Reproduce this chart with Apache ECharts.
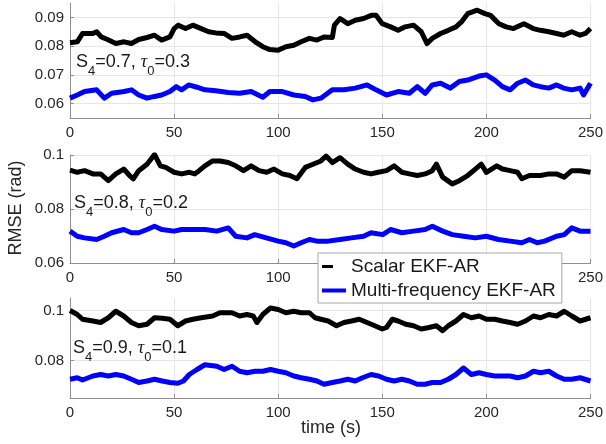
<!DOCTYPE html>
<html><head><meta charset="utf-8">
<script src="https://cdn.jsdelivr.net/npm/echarts@6/dist/echarts.min.js"></script>
<style>html,body{margin:0;padding:0;background:#fff}#c{width:606px;height:444px}</style>
</head><body><div id="c"></div>
<script>
// ---------- data ----------
const xTicks = [0, 50, 100, 150, 200, 250];
const yTicks1 = [0.06, 0.07, 0.08, 0.09];
const yTicks2 = [0.06, 0.08, 0.1];
const yTicks3 = [0.08, 0.1];
const seriesNames = ['Scalar EKF-AR', 'Multi-frequency EKF-AR'];
const panelLabels = [['0.7', '0.3'], ['0.8', '0.2'], ['0.9', '0.1']];

// Panel 1: S4=0.7, tau0=0.3
const t1Scalar = [0,3.5,6,11,12.8,15,18,22,26,29.5,33,37,40.6,44,48,50,52,55.5,59,63,66.6,70,74,77.8,81.5,85,89,92.6,96,100,103.7,107.5,111,115,118.6,122,126,127,129.7,133.4,137,141,144.7,147,150,154,157.6,161,165,168.7,171.5,174,178,181.7,185.4,188,191,195.6,199.3,202,206,209.5,213,218,222.5,226,230,233.7,237,241,245,247.6,250];
const v1Scalar = [0.0812,0.0815,0.0844,0.0844,0.0850,0.0832,0.0823,0.0809,0.0815,0.0809,0.0823,0.0830,0.0838,0.0821,0.0832,0.0861,0.0873,0.0861,0.0873,0.0861,0.0850,0.0846,0.0844,0.0827,0.0832,0.0838,0.0815,0.0798,0.0788,0.0786,0.0798,0.0803,0.0815,0.0827,0.0821,0.0832,0.0830,0.0873,0.0896,0.0878,0.0890,0.0896,0.0907,0.0907,0.0878,0.0867,0.0855,0.0867,0.0873,0.0850,0.0809,0.0827,0.0844,0.0855,0.0867,0.0884,0.0913,0.0925,0.0913,0.0907,0.0878,0.0867,0.0861,0.0878,0.0861,0.0855,0.0850,0.0844,0.0838,0.0850,0.0838,0.0844,0.0861];
const t1Multi = [0,3.5,7,12.8,16.5,20,26,29.5,33,37,40.6,44,48,51,53.6,57,61,64.8,70,76,81.5,87,92.6,96,102,107.5,113,116.7,120.5,126,131.6,137,142.7,147,152,157.6,163,166.8,170.6,174,178,182.6,187,191,196.5,200,204,207.7,211.4,215,218.8,222.5,226,230,233.7,237,241,245,246.7,250];
const v1Multi = [0.0619,0.0630,0.0642,0.0648,0.0619,0.0636,0.0642,0.0648,0.0630,0.0619,0.0625,0.0630,0.0642,0.0659,0.0648,0.0665,0.0657,0.0648,0.0645,0.0639,0.0636,0.0642,0.0622,0.0642,0.0642,0.0630,0.0625,0.0613,0.0619,0.0648,0.0648,0.0654,0.0665,0.0648,0.0630,0.0642,0.0636,0.0659,0.0636,0.0665,0.0671,0.0654,0.0677,0.0682,0.0696,0.0700,0.0682,0.0659,0.0648,0.0671,0.0682,0.0665,0.0659,0.0654,0.0665,0.0654,0.0648,0.0654,0.0630,0.0671];

// Panel 2: S4=0.8, tau0=0.2
const t2Scalar = [0,3.5,7,11,14.7,18.4,22,25.8,28.6,30.4,33,37,40.6,43.4,46,50,53.6,57.3,60,62,64.8,68.5,72,76,79.6,83.3,87,90.8,94.5,98,102,105.6,109,113,116.7,120.5,123,126,129.7,133.4,137,141,144.6,148,152,155.7,159.4,163,166.8,170.6,174,176,179,183.6,187,191,194.7,197.5,200,205,207.7,211.4,215,217,220.7,226,230,233.7,237.4,241,245,250];
const v2Scalar = [0.0944,0.0936,0.0942,0.0930,0.0930,0.0905,0.0930,0.0948,0.0924,0.0912,0.0942,0.0966,0.1002,0.0960,0.0954,0.0936,0.0930,0.0936,0.0930,0.0942,0.0960,0.0978,0.0978,0.0972,0.0960,0.0942,0.0960,0.0942,0.0936,0.0948,0.0930,0.0924,0.0912,0.0954,0.0966,0.0978,0.0996,0.0972,0.0990,0.0966,0.0948,0.0936,0.0930,0.0936,0.0942,0.0960,0.0936,0.0930,0.0924,0.0930,0.0942,0.0966,0.0918,0.0893,0.0905,0.0924,0.0948,0.0966,0.0936,0.0960,0.0948,0.0942,0.0936,0.0912,0.0924,0.0924,0.0930,0.0930,0.0918,0.0942,0.0942,0.0936];
const t2Multi = [0,3.5,7,12.8,16.5,20,25.8,29.5,33,37,40.6,44,50,53.6,59,64.8,70.5,76,79.6,85,88.7,94.3,100,103.7,107.5,111,115,118.6,124,129.7,135.2,141,144.6,150.2,154,159.4,165,170.6,174,179,183.6,189,194.7,200,205.8,211.4,217,220.7,224.4,228,233.7,237.4,241,245,250];
const v2Multi = [0.0718,0.0699,0.0693,0.0687,0.0699,0.0712,0.0724,0.0712,0.0712,0.0724,0.0736,0.0724,0.0718,0.0724,0.0724,0.0724,0.0718,0.0730,0.0699,0.0693,0.0705,0.0693,0.0681,0.0675,0.0663,0.0675,0.0687,0.0681,0.0681,0.0687,0.0693,0.0699,0.0712,0.0705,0.0724,0.0712,0.0718,0.0724,0.0736,0.0718,0.0705,0.0699,0.0693,0.0699,0.0687,0.0681,0.0675,0.0687,0.0675,0.0681,0.0699,0.0705,0.0730,0.0718,0.0718];

// Panel 3: S4=0.9, tau0=0.1
const t3Scalar = [0,3.5,6,11,14.7,18.4,22,25.8,29.5,33,37,40.6,44.3,48,51.8,55.5,59,63,68.5,72,77.8,81.5,85,88,89.8,92.6,96.3,100,103.7,107.5,111,115,117.7,120.5,124,128,131.6,135.2,138.9,142.7,146.4,150,152,154.8,157.6,161.3,165,168.7,172.4,176,179,181.7,185.4,189,192.8,196.5,200,204,207.7,211.4,215,218.8,222.6,226,230,233.7,237.4,241,245,250];
const v3Scalar = [0.1000,0.0984,0.0965,0.0958,0.0952,0.0971,0.0997,0.0978,0.0952,0.0939,0.0945,0.0971,0.0969,0.0965,0.0939,0.0958,0.0965,0.0971,0.0978,0.0991,0.0991,0.0978,0.0984,0.0978,0.0952,0.0984,0.1010,0.1004,0.0991,0.0997,0.0991,0.0991,0.0971,0.0965,0.0958,0.0939,0.0952,0.0958,0.0965,0.0952,0.0939,0.0926,0.0932,0.0965,0.0958,0.0945,0.0939,0.0926,0.0932,0.0939,0.0919,0.0939,0.0958,0.0984,0.0971,0.0978,0.0965,0.0965,0.0958,0.0952,0.0945,0.0958,0.0978,0.0971,0.0984,0.0978,0.0997,0.0978,0.0958,0.0971];
const t3Multi = [0,3.5,6,11,14.7,18.4,22,25.8,29.5,33,37,40.6,44.3,48,51.8,54.5,57.3,61,64.8,70.5,74,77.8,81.5,85,88.9,92.6,96.3,100,103.7,107.5,111,115,118.6,122,126,129.7,133.4,137,140.5,144.6,148.2,152,155.7,159.4,163,166.8,170.6,174,178,181.7,185.4,189,192.8,196.5,200,204,207.7,211.4,215,218.8,222.6,226,230,233.7,237.4,241,245,250];
const v3Multi = [0.0725,0.0731,0.0722,0.0738,0.0744,0.0738,0.0744,0.0738,0.0725,0.0712,0.0718,0.0725,0.0718,0.0712,0.0709,0.0718,0.0744,0.0764,0.0783,0.0777,0.0764,0.0777,0.0757,0.0751,0.0757,0.0757,0.0764,0.0757,0.0751,0.0738,0.0731,0.0725,0.0718,0.0705,0.0712,0.0718,0.0725,0.0718,0.0731,0.0744,0.0738,0.0725,0.0718,0.0725,0.0718,0.0705,0.0705,0.0712,0.0712,0.0725,0.0744,0.0770,0.0744,0.0751,0.0744,0.0738,0.0738,0.0738,0.0731,0.0738,0.0757,0.0751,0.0757,0.0738,0.0725,0.0725,0.0731,0.0718];

// ---------- chart ----------
const FONT = '"Liberation Sans", Arial, Helvetica, sans-serif';
const AXC = '#8f8f8f', GRC = '#e6e6e6', TXT = '#262626';
const COLORS = ['#000000', '#0000ff'];
const WIDTHS = [5, 5];

const layout = [
  { top: 3,   height: 115, min: 0.055, max: 0.095, ticks: yTicks1, labelTop: 53 },
  { top: 155, height: 108, min: 0.06,  max: 0.1,   ticks: yTicks2, labelTop: 194 },
  { top: 298, height: 100, min: 0.065, max: 0.105, ticks: yTicks3, labelTop: 339 }
];
const labelX = [76, 74, 73];
const data = [[[t1Scalar, v1Scalar], [t1Multi, v1Multi]],
              [[t2Scalar, v2Scalar], [t2Multi, v2Multi]],
              [[t3Scalar, v3Scalar], [t3Multi, v3Multi]]];

function pairs(t, v) { const n = Math.min(t.length, v.length); const r = []; for (let i = 0; i < n; i++) r.push([t[i], v[i]]); return r; }
const fmtY = v => String(+(+v).toFixed(3));

const grid = [], xAxis = [], yAxis = [], series = [], graphic = [];
layout.forEach((p, i) => {
  grid.push({ left: 70, right: 15, top: p.top, height: p.height, containLabel: false });
  xAxis.push({
    gridIndex: i, type: 'value', min: xTicks[0], max: xTicks[xTicks.length - 1], interval: 50,
    axisLine: { show: true, onZero: false, lineStyle: { color: AXC, width: 1 } },
    axisTick: { show: true, inside: true, length: 4, lineStyle: { color: AXC } },
    axisLabel: { show: true, color: TXT, fontSize: 15, fontFamily: FONT, margin: 7 },
    splitLine: { show: true, lineStyle: { color: GRC, width: 1 } }
  });
  yAxis.push({
    gridIndex: i, type: 'value', min: p.min, max: p.max,
    axisLine: { show: true, onZero: false, lineStyle: { color: AXC, width: 1 } },
    axisTick: { show: true, inside: true, length: 4, customValues: p.ticks, lineStyle: { color: AXC } },
    axisLabel: { show: true, customValues: p.ticks, formatter: fmtY, color: TXT, fontSize: 15, fontFamily: FONT, margin: 6 },
    splitLine: { show: true, lineStyle: { color: GRC, width: 1 } }
  });
  data[i].forEach((d, k) => {
    series.push({
      type: 'line', name: seriesNames[k], xAxisIndex: i, yAxisIndex: i,
      data: pairs(d[0], d[1]), showSymbol: false, symbol: 'none', silent: true,
      lineStyle: { color: COLORS[k], width: WIDTHS[k], join: 'round' },
      itemStyle: { color: COLORS[k] }, z: 2 + k
    });
  });
  graphic.push({
    type: 'text', x: labelX[i], y: p.labelTop, z: 10,
    style: {
      text: '{a|S}{b|4}{a|=' + panelLabels[i][0] + ', }{c|τ}{b|0}{a|=' + panelLabels[i][1] + '}',
      align: 'left', verticalAlign: 'top', textAlign: 'left', textVerticalAlign: 'top',
      rich: {
        a: { fontSize: 18, fontFamily: FONT, fill: '#1a1a1a', color: '#1a1a1a', verticalAlign: 'top' },
        b: { fontSize: 13, fontFamily: FONT, fill: '#1a1a1a', color: '#1a1a1a', verticalAlign: 'top', padding: [12, 0, 0, 0] },
        c: { fontSize: 18, fontFamily: '"Liberation Serif", serif', fontStyle: 'italic', fill: '#1a1a1a', color: '#1a1a1a', verticalAlign: 'top' }
      }
    }
  });
});

graphic.push({
  type: 'text', x: 16, y: 208, rotation: Math.PI / 2, z: 10,
  style: { text: 'RMSE (rad)', font: '18px ' + FONT, fill: TXT, align: 'center', verticalAlign: 'middle', textAlign: 'center', textVerticalAlign: 'middle' }
});
graphic.push({
  type: 'text', x: 331, y: 428, z: 10,
  style: { text: 'time (s)', font: '18px ' + FONT, fill: TXT, align: 'center', verticalAlign: 'middle', textAlign: 'center', textVerticalAlign: 'middle' }
});

const chart = echarts.init(document.getElementById('c'), null, { renderer: 'canvas', width: 606, height: 444 });
chart.setOption({
  animation: false,
  backgroundColor: '#ffffff',
  grid, xAxis, yAxis, series, graphic,
  legend: {
    left: 318, top: 253, orient: 'vertical', padding: [4, 6, 3, 4], itemGap: 5,
    itemWidth: 24, itemHeight: 12, selectedMode: false,
    backgroundColor: '#ffffff', borderColor: '#a6a6a6', borderWidth: 1, borderRadius: 0,
    textStyle: { fontSize: 19, color: '#1a1a1a', fontFamily: FONT },
    data: [
      { name: seriesNames[0], icon: 'path://M0,0L0.01,0L0.01,0.01Z M0,4.5L11,4.5L11,7.5L0,7.5Z M24,12L23.99,12L23.99,11.99Z', itemStyle: { color: '#000000', borderWidth: 0 } },
      { name: seriesNames[1], icon: 'path://M0,0L0.01,0L0.01,0.01Z M0,4L24,4L24,8L0,8Z M24,12L23.99,12L23.99,11.99Z', itemStyle: { color: '#0000ff', borderWidth: 0 } }
    ]
  }
});
</script>
</body></html>
